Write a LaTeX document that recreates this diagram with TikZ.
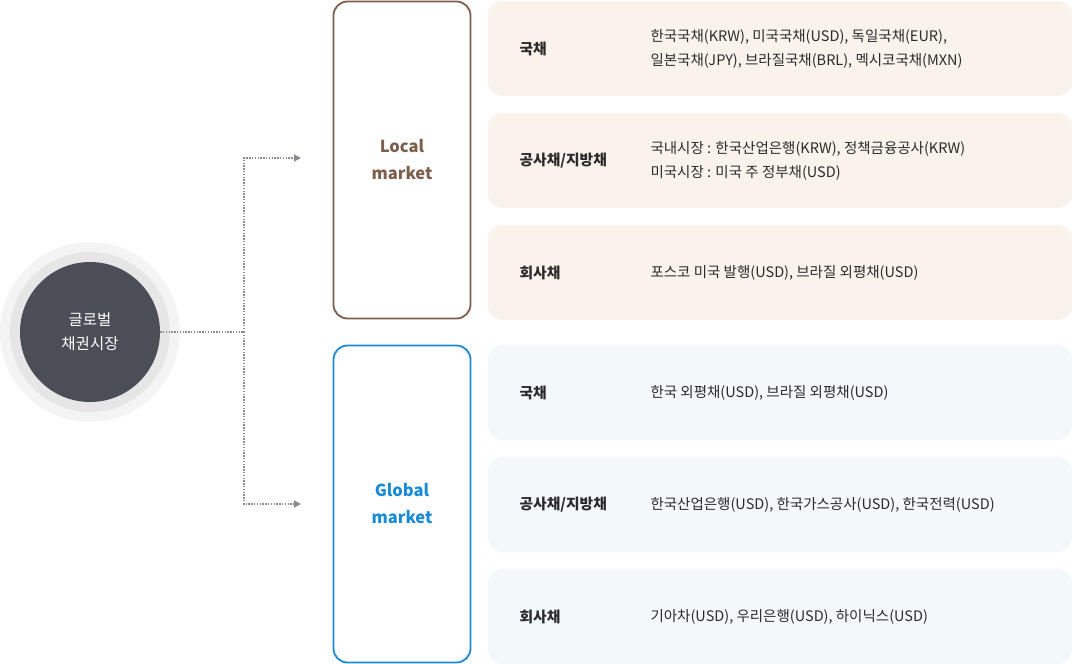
\documentclass[tikz,border=0pt]{standalone}
\usepackage{fontspec}
\setmainfont{Noto Sans CJK KR}
\usetikzlibrary{arrows.meta}
\definecolor{hubgray}{HTML}{4B4E57}
\definecolor{ringin}{HTML}{E6E6E7}
\definecolor{ringout}{HTML}{F4F4F4}
\definecolor{linkgray}{HTML}{8A8B93}
\definecolor{localbrown}{HTML}{7B5E4B}
\definecolor{globalblue}{HTML}{1A8AD6}
\definecolor{localbg}{HTML}{FAF3EC}
\definecolor{globalbg}{HTML}{F3F8FB}
\definecolor{bodytext}{HTML}{2B2B2B}
\begin{document}
\begin{tikzpicture}[x=1pt,y=-1pt,
    link/.style = {linkgray,line width=1.4pt,dash pattern=on 1.4pt off 1.4pt},
    tip/.style = {-{Triangle[length=7pt,width=7pt]}},
    market/.style = {draw,line width=1.8pt,rounded corners=14pt,minimum width=137pt,
        minimum height=317pt,align=center,font=\fontsize{16.5}{27}\selectfont\bfseries},
    row/.style = {rounded corners=14pt,minimum width=584pt,minimum height=95pt},
    cat/.style = {anchor=west,text=bodytext,font=\fontsize{14.8}{24}\selectfont\bfseries},
    detail/.style = {anchor=west,align=left,text=bodytext,font=\fontsize{14.5}{24}\selectfont}]
    \useasboundingbox (0,0) rectangle (1072,664);

    \fill[ringout] (90,332) circle (90pt);
    \fill[ringin] (90,332) circle (80pt);
    \node[circle,fill=hubgray,minimum size=140pt,inner sep=0pt,align=center,
        text=white,font=\fontsize{15.5}{24}\selectfont] (hub) at (90,332) {글로벌\\채권시장};

    \node[market,draw=localbrown,text=localbrown] (local) at (402,160) {Local\\market};
    \node[market,draw=globalblue,text=globalblue] (global) at (402,504) {Global\\market};

    \coordinate (split) at (244,332);
    \coordinate (tolocal) at (301,158);
    \coordinate (toglobal) at (301,504);
    \draw[link] (hub.east) -- (split);
    \draw[link,tip] (split) |- (tolocal);
    \draw[link,tip] (split) |- (toglobal);

    % local market rows
    \node[row,fill=localbg] (lgov) at (780,48.5) {};
    \node[row,fill=localbg] (lpub) at (780,160.5) {};
    \node[row,fill=localbg] (lcorp) at (780,272.5) {};
    \node[cat] (lgovcat) at (516,48.5) {국채};
    \node[cat] (lpubcat) at (516,160.5) {공사채/지방채};
    \node[cat] (lcorpcat) at (516,272.5) {회사채};
    \node[detail] (lgovtxt) at (647,48.5) {한국국채(KRW), 미국국채(USD), 독일국채(EUR),\\일본국채(JPY), 브라질국채(BRL), 멕시코국채(MXN)};
    \node[detail] (lpubtxt) at (647,160.5) {국내시장 : 한국산업은행(KRW), 정책금융공사(KRW)\\미국시장 : 미국 주 정부채(USD)};
    \node[detail] (lcorptxt) at (647,272.5) {포스코 미국 발행(USD), 브라질 외평채(USD)};

    % global market rows
    \node[row,fill=globalbg] (ggov) at (780,392.5) {};
    \node[row,fill=globalbg] (gpub) at (780,504.5) {};
    \node[row,fill=globalbg] (gcorp) at (780,616.5) {};
    \node[cat] (ggovcat) at (516,392.5) {국채};
    \node[cat] (gpubcat) at (516,504.5) {공사채/지방채};
    \node[cat] (gcorpcat) at (516,616.5) {회사채};
    \node[detail] (ggovtxt) at (647,392.5) {한국 외평채(USD), 브라질 외평채(USD)};
    \node[detail] (gpubtxt) at (647,504.5) {한국산업은행(USD), 한국가스공사(USD), 한국전력(USD)};
    \node[detail] (gcorptxt) at (647,616.5) {기아차(USD), 우리은행(USD), 하이닉스(USD)};
\end{tikzpicture}
\end{document}
